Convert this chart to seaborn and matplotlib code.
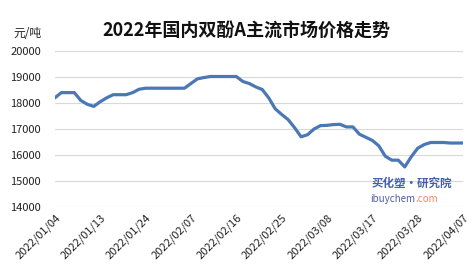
import matplotlib
matplotlib.use("Agg")
import matplotlib.pyplot as plt
import seaborn as sns
import pandas as pd
import numpy as np

sns.set_theme(style="white")
plt.rcParams['font.family'] = ['Noto Sans CJK SC', 'DejaVu Sans']

title = "2022年国内双酚A主流市场价格走势"
unit = "元/吨"
tick_labels = ["2022/01/04", "2022/01/13", "2022/01/24", "2022/02/07", "2022/02/16",
               "2022/02/25", "2022/03/08", "2022/03/17", "2022/03/28", "2022/04/07"]
label_step = 7
prices = [18200, 18400, 18400, 18400, 18100, 17950, 17870, 18050, 18200, 18320,
          18320, 18320, 18400, 18530, 18570, 18570, 18570, 18570, 18570, 18570,
          18570, 18750, 18930, 18980, 19020, 19020, 19020, 19020, 19020, 18830,
          18750, 18620, 18520, 18200, 17780, 17560, 17360, 17050, 16700, 16780,
          17000, 17130, 17140, 17170, 17180, 17080, 17080, 16800, 16680, 16560,
          16350, 15950, 15800, 15800, 15540, 15930, 16260, 16400, 16480, 16480,
          16480, 16460, 16460, 16460]
yticks = [14000, 15000, 16000, 17000, 18000, 19000, 20000]

df = pd.DataFrame({"idx": np.arange(len(prices)), "price": prices})

fig = plt.figure(figsize=(4.73, 2.73), dpi=100)
ax = fig.add_axes([0.116, 0.242, 0.863, 0.571])
sns.lineplot(data=df, x="idx", y="price", ax=ax, color="#4a78b6", linewidth=2.3)

ax.set_xlim(0, len(prices) - 1)
ax.set_ylim(14000, 20000)
ax.set_yticks(yticks)
ax.set_yticklabels([str(v) for v in yticks], fontsize=8, color="#222222")
ax.yaxis.grid(True, color="#d9d9d9", linewidth=0.8)
ax.xaxis.grid(False)
ax.set_xticks(np.arange(0, len(prices), label_step))
ax.set_xticklabels(tick_labels, rotation=45, ha="right", rotation_mode="anchor",
                   fontsize=8, color="#222222")
ax.tick_params(axis="x", length=0, pad=4)
ax.tick_params(axis="y", length=0, pad=10)
ax.set_xlabel("")
ax.set_ylabel("")
for s in ax.spines.values():
    s.set_visible(False)

fig.text(0.52, 0.888, title, ha="center", va="center", fontsize=13, fontweight="bold", color="#111111")
fig.text(0.028, 0.878, unit, ha="left", va="center", fontsize=8.5, color="#222222")

# watermark
fig.text(0.786, 0.33, "买化塑·研究院", ha="left", va="center", fontsize=8.3, fontweight="bold",
         style="italic", color="#2f4fa0", alpha=0.9)
t1 = fig.text(0.782, 0.27, "ibuychem", ha="left", va="center", fontsize=7, color="#3a4f9a", alpha=0.9)
fig.canvas.draw()
bb = t1.get_window_extent()
x_end = bb.x1 / fig.bbox.width
fig.text(x_end, 0.27, ".com", ha="left", va="center", fontsize=7, color="#ef7a50", alpha=0.9)

fig.savefig("out.png", dpi=100)
